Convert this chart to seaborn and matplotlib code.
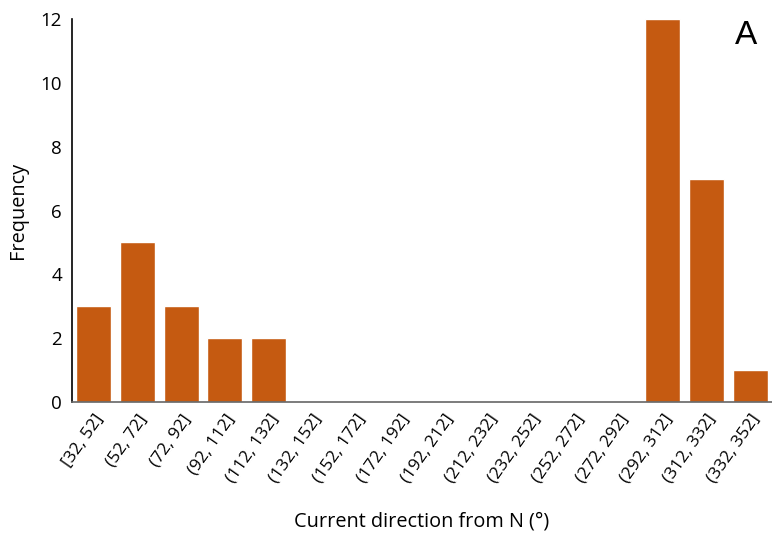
import matplotlib
matplotlib.use("Agg")
import matplotlib.pyplot as plt
import seaborn as sns
import pandas as pd

bins = ["[32, 52]", "(52, 72]", "(72, 92]", "(92, 112]", "(112, 132]",
        "(132, 152]", "(152, 172]", "(172, 192]", "(192, 212]", "(212, 232]",
        "(232, 252]", "(252, 272]", "(272, 292]", "(292, 312]", "(312, 332]",
        "(332, 352]"]
freq = [3, 5, 3, 2, 2, 0, 0, 0, 0, 0, 0, 0, 0, 12, 7, 1]

df = pd.DataFrame({"bin": bins, "freq": freq})

sns.set_style("white")
plt.rcParams["font.family"] = ["Open Sans", "DejaVu Sans"]
plt.rcParams["text.color"] = "black"
plt.rcParams["axes.labelcolor"] = "black"
plt.rcParams["xtick.color"] = "black"
plt.rcParams["ytick.color"] = "black"

fig = plt.figure(figsize=(7.72, 5.35), dpi=100)
ax = fig.add_axes([0.093, 0.249, 0.907, 0.715])

sns.barplot(data=df, x="bin", y="freq", color="#C55A11", saturation=1,
            width=0.8, ax=ax)

ax.set_ylim(0, 12)
ax.set_xlim(-0.5, len(bins) - 0.5)
ax.set_yticks(range(0, 13, 2))
ax.tick_params(axis="both", length=0)
ax.tick_params(axis="y", labelsize=13.5, pad=7)
ax.tick_params(axis="x", labelsize=12.5, pad=7)
for lbl in ax.get_xticklabels():
    lbl.set_rotation(55)
    lbl.set_ha("right")
    lbl.set_rotation_mode("anchor")

ax.set_xlabel("Current direction from N (°)", fontsize=14.3)
ax.set_ylabel("Frequency", fontsize=14.3)
ax.xaxis.label.set_va("center")
ax.yaxis.label.set_va("center")
ax.xaxis.set_label_coords(0.5, -0.314)
ax.yaxis.set_label_coords(-0.077, 0.5)

for side in ["top", "right"]:
    ax.spines[side].set_visible(False)
ax.spines["left"].set_color("black")
ax.spines["bottom"].set_color("#666666")
for side in ["left", "bottom"]:
    ax.spines[side].set_linewidth(1.2)

ax.text(0.963, 0.966, "A", transform=ax.transAxes, ha="center",
        va="center_baseline", fontsize=24,
        family=["Liberation Sans", "DejaVu Sans"])

fig.savefig("out.png", dpi=100)
